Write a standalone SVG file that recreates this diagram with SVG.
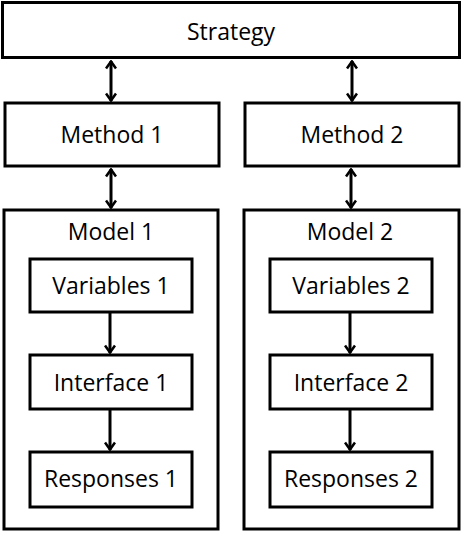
<svg xmlns="http://www.w3.org/2000/svg" width="465" height="538" viewBox="0 0 465 538">
<defs>
<style>
rect{fill:#fff;stroke:#000;stroke-width:3}
text{font-family:"Open Sans","Liberation Sans",sans-serif;font-size:23px;fill:#000;text-anchor:middle}
.c line{stroke:#000;stroke-width:3}
</style>
<marker id="ah" viewBox="0 0 10 12" refX="9" refY="6" markerWidth="10" markerHeight="12" markerUnits="userSpaceOnUse" orient="auto-start-reverse">
<path d="M1.5,1 L8.5,6 L1.5,11" fill="none" stroke="#000" stroke-width="2.6"/>
</marker>
</defs>
<g id="strategy"><rect x="2.5" y="2.5" width="457" height="55"/><text x="231" y="40">Strategy</text></g>
<g id="method1"><rect x="5" y="103" width="214" height="63"/><text x="112" y="143">Method 1</text></g>
<g id="method2"><rect x="245" y="103" width="214" height="63"/><text x="352" y="143">Method 2</text></g>
<g id="model1"><rect x="4" y="210" width="214" height="319"/><text x="111" y="240">Model 1</text></g>
<g id="model2"><rect x="244" y="210" width="215" height="319"/><text x="350" y="240">Model 2</text></g>
<g id="variables1"><rect x="30" y="259" width="162" height="53"/><text x="111" y="294">Variables 1</text></g>
<g id="interface1"><rect x="30" y="355" width="162" height="54"/><text x="111" y="391">Interface 1</text></g>
<g id="responses1"><rect x="30" y="452" width="162" height="55"/><text x="111" y="487">Responses 1</text></g>
<g id="variables2"><rect x="270" y="259" width="162" height="53"/><text x="351" y="294">Variables 2</text></g>
<g id="interface2"><rect x="270" y="355" width="162" height="54"/><text x="351" y="391">Interface 2</text></g>
<g id="responses2"><rect x="270" y="452" width="162" height="55"/><text x="351" y="487">Responses 2</text></g>
<g class="c" id="connectors">
<line x1="111" y1="61" x2="111" y2="101" marker-start="url(#ah)" marker-end="url(#ah)"/>
<line x1="352" y1="61" x2="352" y2="101" marker-start="url(#ah)" marker-end="url(#ah)"/>
<line x1="111" y1="169" x2="111" y2="208" marker-start="url(#ah)" marker-end="url(#ah)"/>
<line x1="351" y1="169" x2="351" y2="208" marker-start="url(#ah)" marker-end="url(#ah)"/>
<line x1="110" y1="313" x2="110" y2="353" marker-end="url(#ah)"/>
<line x1="110" y1="410" x2="110" y2="450" marker-end="url(#ah)"/>
<line x1="350" y1="313" x2="350" y2="353" marker-end="url(#ah)"/>
<line x1="350" y1="410" x2="350" y2="450" marker-end="url(#ah)"/>
</g>
</svg>
